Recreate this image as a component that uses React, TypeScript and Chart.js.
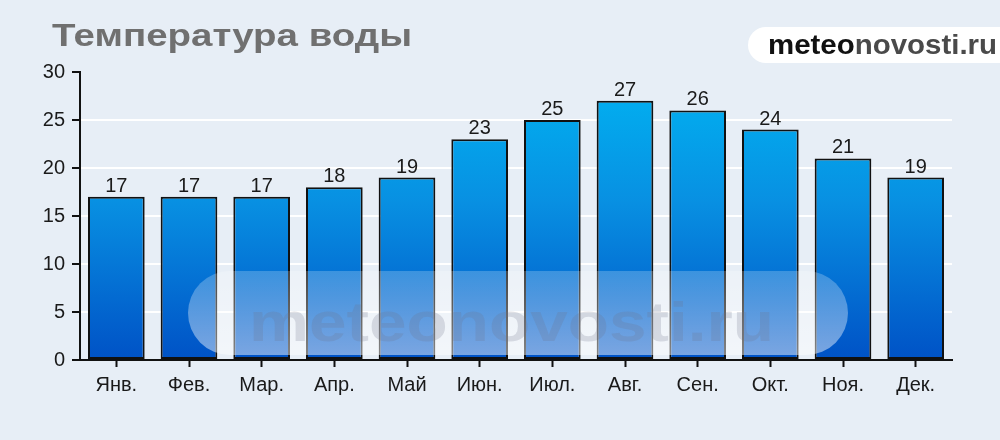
import React, { useEffect, useRef } from 'react';
import { Chart, registerables } from 'chart.js';

Chart.register(...registerables);

const months = ['Янв.', 'Фев.', 'Мар.', 'Апр.', 'Май', 'Июн.', 'Июл.', 'Авг.', 'Сен.', 'Окт.', 'Ноя.', 'Дек.'];
const waterTemp = [17, 17, 17, 18, 19, 23, 25, 27, 26, 24, 21, 19];
const yMin = 0;
const yMax = 30;
const yStep = 5;
const titleText = 'Температура воды';
const logoBold = 'meteo';
const logoRest = 'novosti.ru';
const watermarkText = 'meteonovosti.ru';

const FONT = '"Liberation Sans", Arial, sans-serif';

function drawFitted(ctx: CanvasRenderingContext2D, text: string, font: string, x: number, y: number, target: number) {
  ctx.font = font;
  const w = ctx.measureText(text).width;
  ctx.save();
  ctx.translate(x, y);
  ctx.scale(target / w, 1);
  ctx.fillText(text, 0, 0);
  ctx.restore();
}

const decorPlugin = {
  id: 'decor',
  beforeDraw(chart: any) {
    const ctx = chart.ctx as CanvasRenderingContext2D;
    ctx.save();
    ctx.fillStyle = '#e7eef6';
    ctx.fillRect(0, 0, chart.width, chart.height);

    // title
    ctx.fillStyle = '#707070';
    ctx.textBaseline = 'alphabetic';
    ctx.textAlign = 'left';
    drawFitted(ctx, titleText, `bold 32px ${FONT}`, 52, 46, 360);

    // logo pill
    ctx.fillStyle = '#ffffff';
    ctx.beginPath();
    (ctx as any).roundRect(748, 27, 290, 36, 18);
    ctx.fill();
    ctx.font = `bold 28px ${FONT}`;
    const wb = ctx.measureText(logoBold).width;
    const wr = ctx.measureText(logoRest).width;
    const sc = 229 / (wb + wr);
    ctx.save();
    ctx.translate(768, 54);
    ctx.scale(sc, 1);
    ctx.fillStyle = '#111111';
    ctx.fillText(logoBold, 0, 0);
    ctx.fillStyle = '#4a4a4a';
    ctx.fillText(logoRest, wb, 0);
    ctx.restore();
    ctx.restore();
  },
  afterDatasetsDraw(chart: any) {
    const ctx = chart.ctx as CanvasRenderingContext2D;
    ctx.save();
    // value labels
    const meta = chart.getDatasetMeta(0);
    ctx.font = `20px ${FONT}`;
    ctx.fillStyle = '#1a1a1a';
    ctx.textAlign = 'center';
    ctx.textBaseline = 'alphabetic';
    meta.data.forEach((bar: any, i: number) => {
      ctx.fillText(String(waterTemp[i]), bar.x, bar.y - 5);
    });

    // watermark pill
    const g = ctx.createLinearGradient(0, 271, 0, 355);
    g.addColorStop(0, 'rgba(255,255,255,0.22)');
    g.addColorStop(1, 'rgba(255,255,255,0.48)');
    ctx.fillStyle = g;
    ctx.beginPath();
    (ctx as any).roundRect(188, 271, 660, 84, 42);
    ctx.fill();
    ctx.fillStyle = 'rgba(110,115,135,0.22)';
    ctx.textAlign = 'left';
    drawFitted(ctx, watermarkText, `bold 56px ${FONT}`, 249, 341, 525);
    ctx.restore();
  },
};

export default function App() {
  const ref = useRef<HTMLCanvasElement>(null);
  useEffect(() => {
    if (!ref.current) return;
    const chart = new Chart(ref.current, {
      type: 'bar',
      data: {
        labels: months,
        datasets: [
          {
            data: waterTemp,
            backgroundColor: (c: any) => {
              const area = c.chart.chartArea;
              if (!area) return '#0080e0';
              const g = c.chart.ctx.createLinearGradient(0, area.top, 0, area.bottom);
              g.addColorStop(0, '#00b4f2');
              g.addColorStop(0.45, '#0890e2');
              g.addColorStop(1, '#0052c6');
              return g;
            },
            borderColor: '#111111',
            borderWidth: 2,
            borderSkipped: false,
            barPercentage: 0.78,
            categoryPercentage: 1,
          },
        ],
      },
      options: {
        responsive: false,
        animation: false,
        layout: { padding: { left: 0, top: 72, right: 48, bottom: 0 } },
        plugins: { legend: { display: false }, tooltip: { enabled: false }, title: { display: false } },
        scales: {
          x: {
            offset: true,
            grid: { display: true, drawOnChartArea: false, offset: false, tickLength: 7, tickColor: '#111111', tickWidth: 2 },
            border: { display: true, color: '#111111', width: 2 },
            ticks: { color: '#1a1a1a', font: { family: FONT, size: 20 }, padding: 6, maxRotation: 0, autoSkip: false },
            afterFit: (s: any) => { s.height = 80; },
          },
          y: {
            min: yMin,
            max: yMax,
            ticks: { stepSize: yStep, color: '#1a1a1a', font: { family: FONT, size: 20 }, padding: 7 },
            grid: {
              color: (c: any) => (c.tick && (c.tick.value === yMin || c.tick.value === yMax) ? 'rgba(0,0,0,0)' : '#ffffff'),
              lineWidth: 2,
              tickLength: 8,
              tickColor: '#111111',
              tickWidth: 2,
            },
            border: { display: true, color: '#111111', width: 2 },
            afterFit: (s: any) => { s.width = 80; },
          },
        },
      },
      plugins: [decorPlugin],
    } as any);
    return () => chart.destroy();
  }, []);
  return (
    <div style={{ position: 'fixed', left: 0, top: 0, width: 1000, height: 440 }}>
      <canvas ref={ref} width={1000} height={440} style={{ width: 1000, height: 440, display: 'block' }} />
    </div>
  );
}
